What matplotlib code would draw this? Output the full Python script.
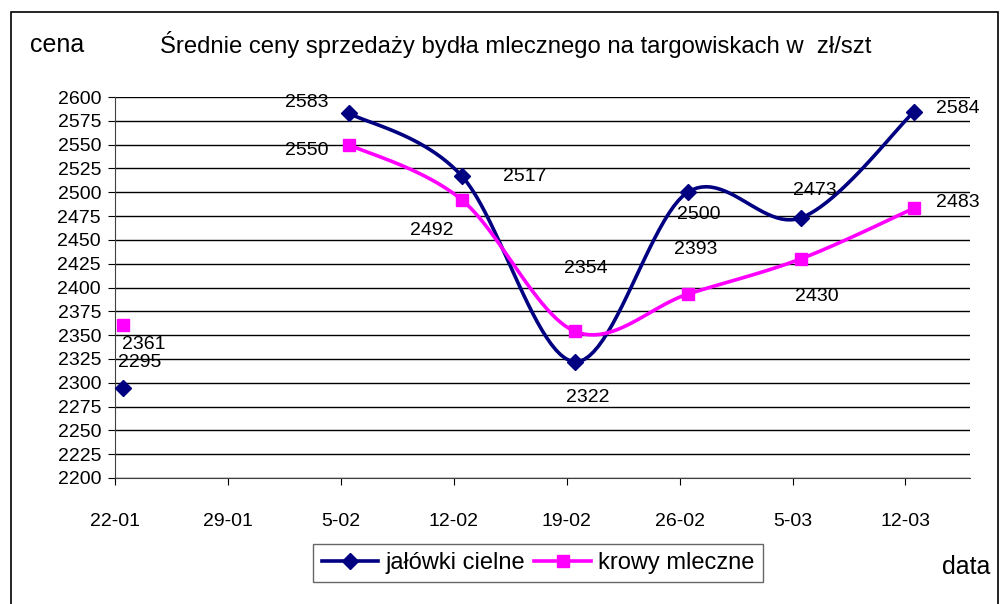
import numpy as np
import matplotlib
matplotlib.use("Agg")
import matplotlib.pyplot as plt
from matplotlib.lines import Line2D
from matplotlib.patches import Rectangle

plt.rcParams['font.family'] = ['Liberation Sans', 'DejaVu Sans']

# dates as days after 22-01, weekly
days = [0, 7, 14, 21, 28, 35, 42, 49]
tick_labels = ['22-01', '29-01', '5-02', '12-02', '19-02', '26-02', '5-03', '12-03']
jalowki = [2295, np.nan, 2583, 2517, 2322, 2500, 2473, 2584]
krowy = [2361, np.nan, 2550, 2492, 2354, 2393, 2430, 2483]
names = ['jałówki cielne', 'krowy mleczne']
colors = ['#000080', '#FF00FF']
markers = ['D', 's']

# label offsets in points (dx, dy) per point
jal_off = [(12, 18), None, (-30, 8), (45, 0), (9, -26), (8, -16), (10, 20), (32, 3)]
kro_off = [(15, -14), None, (-30, -4), (-22, -22), (8, 45), (6, 32), (12, -27), (32, 4)]


def smooth(x, y, n=25):
    # Excel-like smoothed line: bezier with catmull-rom control points
    pts = np.column_stack([x, y])
    out = []
    for i in range(len(pts) - 1):
        p0 = pts[i - 1] if i > 0 else pts[i]
        p1 = pts[i]
        p2 = pts[i + 1]
        p3 = pts[i + 2] if i + 2 < len(pts) else pts[i + 1]
        c1 = p1 + (p2 - p0) / 6
        c2 = p2 - (p3 - p1) / 6
        t = np.linspace(0, 1, n)[:, None]
        seg = (1 - t) ** 3 * p1 + 3 * (1 - t) ** 2 * t * c1 + 3 * (1 - t) * t ** 2 * c2 + t ** 3 * p2
        out.append(seg)
    out = np.vstack(out)
    return out[:, 0], out[:, 1]


fig = plt.figure(figsize=(10.02, 6.04), dpi=100)
fig.patches.append(Rectangle((11 / 1002, -0.01), 987 / 1002, 1 - 12 / 604 + 0.01,
                             transform=fig.transFigure, fill=False, ec='black', lw=1.2))
ax = fig.add_axes([115 / 1002, 126 / 604, 855 / 1002, 381 / 604])

xs = np.array(days) + 0.5
for vals, offs, c, m, ms in zip([jalowki, krowy], [jal_off, kro_off], colors, markers, [8, 8.5]):
    v = np.array(vals, dtype=float)
    ok = ~np.isnan(v)
    # contiguous runs
    idx = np.where(ok)[0]
    runs = np.split(idx, np.where(np.diff(idx) > 1)[0] + 1)
    for r in runs:
        if len(r) > 1:
            sx, sy = smooth(xs[r], v[r])
            ax.plot(sx, sy, color=c, lw=2.6, solid_joinstyle='round', zorder=3)
    ax.plot(xs[ok], v[ok], ls='none', marker=m, color=c, ms=ms, zorder=4)
    for xi, yi, o in zip(xs, v, offs):
        if np.isnan(yi):
            continue
        ax.annotate(f'{int(yi)}', (xi, yi), xytext=o, textcoords='offset points',
                    ha='center', va='center', fontsize=14, zorder=5)

ax.set_xlim(0, 53)
ax.set_ylim(2200, 2600)
ax.set_yticks(np.arange(2200, 2601, 25))
ax.set_xticks(days)
ax.set_xticklabels(tick_labels, fontsize=14)
ax.tick_params(axis='y', labelsize=14, length=5, direction='out', pad=5)
ax.tick_params(axis='x', length=5, direction='out', pad=20)
ax.yaxis.grid(True, color='black', lw=1)
ax.set_axisbelow(True)
for s in ['top', 'right']:
    ax.spines[s].set_visible(False)
for s in ['left', 'bottom']:
    ax.spines[s].set_color('#404040')

fig.text(30 / 1002, 1 - 45 / 604, 'cena', fontsize=18, va='center', ha='left')
fig.text(516 / 1002, 1 - 45 / 604, 'Średnie ceny sprzedaży bydła mlecznego na targowiskach w  zł/szt',
         fontsize=17.2, va='center', ha='center')
fig.text(942 / 1002, 1 - 567 / 604, 'data', fontsize=18, va='center', ha='left')

handles = [Line2D([], [], color=c, lw=2.6, marker=m, ms=8.5) for c, m in zip(colors, markers)]
fig.legend(handles, names, loc='center', bbox_to_anchor=(538 / 1002, 1 - 563 / 604),
           ncol=2, fontsize=17, frameon=True, fancybox=False, edgecolor='#404040',
           handlelength=2.4, handletextpad=0.3, columnspacing=0.4, borderpad=0.35)

fig.savefig('out.png', dpi=100)
